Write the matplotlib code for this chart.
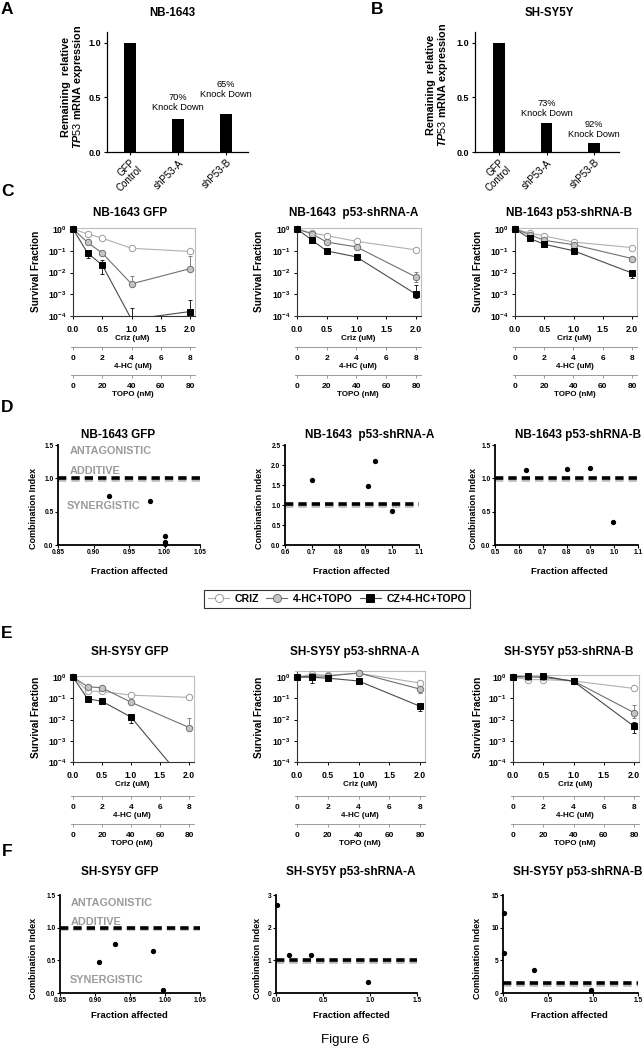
import numpy as np
import matplotlib
matplotlib.use("Agg")
import matplotlib.pyplot as plt
import matplotlib.patheffects as pe
from matplotlib.lines import Line2D
from matplotlib.ticker import LogLocator, NullFormatter

plt.rcParams["font.family"] = ["Liberation Sans", "DejaVu Sans"]
plt.rcParams["mathtext.fontset"] = "custom"
plt.rcParams["mathtext.rm"] = "Liberation Sans"
plt.rcParams["mathtext.bf"] = "Liberation Sans:bold"
plt.rcParams["mathtext.it"] = "Liberation Sans:italic:bold"

W, H = 644, 1050

# A / B: remaining TP53 mRNA after knock down
kd_groups = ["GFP\nControl", "shP53-A", "shP53-B"]
nb1643_tp53 = [1.0, 0.30, 0.35]
shsy5y_tp53 = [1.0, 0.27, 0.085]
nb1643_kd_notes = ["", "70%\nKnock Down", "65%\nKnock Down"]
shsy5y_kd_notes = ["", "73%\nKnock Down", "92%\nKnock Down"]

# C / E: survival fraction vs crizotinib dose (4-HC = 4x, TOPO = 40x)
criz_dose = [0.0, 0.25, 0.5, 1.0, 2.0]
hc_ticks = [0, 2, 4, 6, 8]
topo_ticks = [0, 20, 40, 60, 80]
series_names = ["CRIZ", "4-HC+TOPO", "CZ+4-HC+TOPO"]

nb_gfp_criz = [1.0, 0.59, 0.38, 0.13, 0.093]
nb_gfp_hctopo = [1.0, 0.24, 0.078, 0.003, 0.015]
nb_gfp_combo = [1.0, 0.078, 0.022, 7e-5, 1.6e-4]
nb_gfp_hctopo_err = [(3, 0.003, 0.0068), (4, 0.015, 0.055)]
nb_gfp_combo_err = [(1, 0.048, 0.078), (2, 0.0085, 0.036), (3, 7e-5, 2.4e-4), (4, 1.6e-4, 5.5e-4)]

nb_sha_criz = [1.0, 0.65, 0.50, 0.27, 0.11]
nb_sha_hctopo = [1.0, 0.60, 0.25, 0.15, 0.0062]
nb_sha_combo = [1.0, 0.31, 0.098, 0.052, 0.001]
nb_sha_hctopo_err = [(4, 0.0038, 0.011)]
nb_sha_combo_err = [(4, 0.0007, 0.0027)]

nb_shb_criz = [1.0, 0.65, 0.48, 0.25, 0.14]
nb_shb_hctopo = [1.0, 0.55, 0.30, 0.19, 0.044]
nb_shb_combo = [1.0, 0.37, 0.20, 0.10, 0.0095]
nb_shb_hctopo_err = []
nb_shb_combo_err = [(4, 0.0055, 0.0095)]

sh_gfp_criz = [1.0, 0.22, 0.21, 0.14, 0.11]
sh_gfp_hctopo = [1.0, 0.35, 0.31, 0.065, 0.0042]
sh_gfp_combo = [1.0, 0.095, 0.072, 0.013, 7e-6]
sh_gfp_hctopo_err = [(4, 0.0042, 0.012)]
sh_gfp_combo_err = [(3, 0.007, 0.016)]

sh_sha_criz = [1.0, 1.35, 1.2, 1.5, 0.52]
sh_sha_hctopo = [1.0, 1.1, 1.1, 1.55, 0.27]
sh_sha_combo = [1.0, 0.97, 0.88, 0.65, 0.042]
sh_sha_hctopo_err = [(4, 0.17, 0.27)]
sh_sha_combo_err = [(1, 0.55, 0.97), (2, 0.7, 0.88), (3, 0.5, 0.65), (4, 0.024, 0.042)]

sh_shb_criz = [1.0, 0.75, 0.75, 0.65, 0.29]
sh_shb_hctopo = [1.0, 1.0, 0.95, 0.65, 0.021]
sh_shb_combo = [1.0, 1.15, 1.1, 0.62, 0.0048]
sh_shb_hctopo_err = [(4, 0.012, 0.046)]
sh_shb_combo_err = [(4, 0.0022, 0.0075)]

# D / F: combination index vs fraction affected
nb_gfp_fa = [0.922, 0.979, 1.0, 1.0, 1.0]
nb_gfp_ci = [0.735, 0.665, 0.14, 0.045, 0.02]
nb_sha_fa = [0.70, 0.91, 0.935, 1.0]
nb_sha_ci = [1.62, 1.48, 2.10, 0.84]
nb_shb_fa = [0.63, 0.80, 0.90, 0.995]
nb_shb_ci = [1.13, 1.14, 1.16, 0.34]
sh_gfp_fa = [0.906, 0.928, 0.983, 0.997]
sh_gfp_ci = [0.47, 0.75, 0.645, 0.05]
sh_sha_fa = [0.01, 0.14, 0.37, 0.98]
sh_sha_ci = [2.7, 1.15, 1.17, 0.35]
sh_shb_fa = [0.01, 0.01, 0.34, 0.98]
sh_shb_ci = [12.2, 6.1, 3.5, 0.4]

fig = plt.figure(figsize=(W / 100, H / 100), dpi=100)


def px_axes(left, top, right, bottom):
    return fig.add_axes([left / W, 1 - bottom / H, (right - left) / W, (bottom - top) / H])


def px_text(x, y, s, **kw):
    kw.setdefault("ha", "center")
    kw.setdefault("va", "center")
    fig.text(x / W, 1 - y / H, s, **kw)


def knockdown_panel(left, right, first_bar, step, values, notes, lifts):
    ax = px_axes(left, 32, right, 152)
    pos = np.arange(len(values))
    ax.bar(pos, values, width=0.25, color="black")
    ax.set_xlim((left - first_bar) / step, (right - first_bar) / step)
    ax.set_ylim(0, 1.1)
    ax.set_yticks([0, 0.5, 1.0])
    ax.set_yticklabels(["0.0", "0.5", "1.0"], fontsize=6.5, fontweight="bold")
    ax.set_xticks(pos)
    ax.set_xticklabels(kd_groups, rotation=45, ha="right", rotation_mode="anchor",
                       fontsize=7, linespacing=1.0)
    for p, v, note, lift in zip(pos, values, notes, lifts):
        if note:
            ax.text(p, v + lift, note, ha="center", va="bottom", fontsize=6.7, linespacing=1.1)
    for side in ("top", "right"):
        ax.spines[side].set_visible(False)
    for side in ("left", "bottom"):
        ax.spines[side].set_linewidth(0.9)
    ax.tick_params(length=2.5, width=0.8, pad=1.5)
    return ax


series_styles = [
    dict(marker="o", mfc="white", mec="#9a9a9a", line="#b0b0b0", ms=4.6),
    dict(marker="o", mfc="#c4c4c4", mec="#707070", line="#707070", ms=4.6),
    dict(marker="s", mfc="black", mec="black", line="#4a4a4a", ms=4.0),
]


def survival_panel(x0, x2, y_one, y_min, top, hc_line, topo_line, curves, errs):
    decade = (y_min - y_one) / 4
    y_top = y_one - np.log10(top) * decade
    unit = (x2 - x0) / 2
    ax = px_axes(x0 - 0.04 * unit, y_top, x0 + 2.08 * unit, y_min)
    ax.set_yscale("log")
    ax.set_ylim(1e-4, top)
    ax.set_xlim(-0.04, 2.08)
    x = np.array(criz_dose)
    for y, err, st in zip(curves, errs, series_styles):
        y = np.array(y)
        ax.plot(x, y, color=st["line"], lw=0.8, zorder=2)
        for i, lo, hi in err:
            ax.errorbar([x[i]], [y[i]], yerr=[[y[i] - lo], [hi - y[i]]], fmt="none",
                        ecolor=st["mec"], elinewidth=0.6, capsize=1.5, capthick=0.6, zorder=2)
        keep = y >= 1e-4
        ax.plot(x[keep], y[keep], ls="none", marker=st["marker"], ms=st["ms"],
                mfc=st["mfc"], mec=st["mec"], mew=0.7, clip_on=False, zorder=3)

    ax.spines["left"].set_position(("data", 0))
    for side in ("left", "bottom"):
        ax.spines[side].set_color("#333333")
    for side in ("top", "right"):
        ax.spines[side].set_color("#bdbdbd")
    for s in ax.spines.values():
        s.set_linewidth(0.8)
    ax.set_yticks([1e-4, 1e-3, 1e-2, 1e-1, 1e0])
    ax.set_yticklabels([r"$\mathbf{10^{%d}}$" % e for e in range(-4, 1)], fontsize=6.2)
    ax.yaxis.set_minor_locator(LogLocator(base=10, subs=np.arange(2, 10)))
    ax.yaxis.set_minor_formatter(NullFormatter())
    ax.set_xticks([0, 0.5, 1, 1.5, 2])
    ax.set_xticklabels(["0.0", "0.5", "1.0", "1.5", "2.0"], fontsize=6.2, fontweight="bold")
    ax.tick_params(axis="both", which="major", length=2.5, width=0.7, pad=2)
    ax.tick_params(axis="x", pad=4)
    ax.tick_params(axis="y", which="minor", length=1.3, width=0.4, color="#666666")
    ax.set_xlabel("Criz (uM)", fontsize=5.8, fontweight="bold", labelpad=0.5)

    height = y_min - y_top
    for line_px, scale, ticks, label in ((hc_line, 4, hc_ticks, "4-HC (uM)"),
                                         (topo_line, 40, topo_ticks, "TOPO (nM)")):
        sec = ax.secondary_xaxis(-(line_px - y_min) / height,
                                 functions=(lambda v, s=scale: v * s, lambda v, s=scale: v / s))
        sec.set_xticks(ticks)
        sec.set_xticklabels([str(t) for t in ticks], fontsize=6, fontweight="bold")
        sec.spines["bottom"].set_color("#8a8a8a")
        sec.spines["bottom"].set_linewidth(0.6)
        sec.tick_params(length=2, width=0.6, color="#8a8a8a", pad=4)
        sec.set_xlabel(label, fontsize=5.8, fontweight="bold", labelpad=0.5)
    return ax


def ci_panel(left, right, top, bottom, xlim, xticks, xfmt, ylim, yticks, yfmt,
             fa, ci, ref_y, zones=()):
    ax = px_axes(left, top, right, bottom)
    ax.set_xlim(*xlim)
    ax.set_ylim(*ylim)
    ax.plot(xlim, [ref_y, ref_y], color="black", lw=2.6, ls=(0, (2.3, 1.4)),
            dash_capstyle="butt", zorder=2,
            path_effects=[pe.SimpleLineShadow(offset=(0, -1.3), shadow_color="#8c8c8c", alpha=0.6),
                          pe.Normal()])
    ax.plot(fa, ci, ls="none", marker="o", ms=2.8, color="black", clip_on=False, zorder=3)
    for zx, zy, txt in zones:
        ax.text(zx, zy, txt, ha="left", va="center", fontsize=7.8, fontweight="bold",
                color="#9b9b9b")
    ax.set_xticks(xticks)
    ax.set_xticklabels([xfmt % t for t in xticks], fontsize=4.8, fontweight="bold")
    ax.set_yticks(yticks)
    ax.set_yticklabels([yfmt % t for t in yticks], fontsize=4.8, fontweight="bold")
    for side in ("top", "right"):
        ax.spines[side].set_visible(False)
    for side in ("left", "bottom"):
        ax.spines[side].set_linewidth(1.3)
    ax.tick_params(length=2, width=0.8, pad=1.2)
    return ax


# ---- A / B
knockdown_panel(107, 248, 130, 48, nb1643_tp53, nb1643_kd_notes, [0, 0.065, 0.135])
knockdown_panel(475, 619, 499, 47.5, shsy5y_tp53, shsy5y_kd_notes, [0, 0.04, 0.035])
bar_ylabel = "Remaining  relative\n$\\mathit{TP53}$ mRNA expression"
px_text(73, 87, bar_ylabel, rotation=90, fontsize=7.8, fontweight="bold", linespacing=1.0)
px_text(438, 85, bar_ylabel, rotation=90, fontsize=7.8, fontweight="bold", linespacing=1.0)
px_text(172, 13, "NB-1643", fontsize=8.3, fontweight="bold")
px_text(549, 13, "SH-SY5Y", fontsize=8.3, fontweight="bold")

# ---- C
c_curves = [
    ([nb_gfp_criz, nb_gfp_hctopo, nb_gfp_combo], [[], nb_gfp_hctopo_err, nb_gfp_combo_err]),
    ([nb_sha_criz, nb_sha_hctopo, nb_sha_combo], [[], nb_sha_hctopo_err, nb_sha_combo_err]),
    ([nb_shb_criz, nb_shb_hctopo, nb_shb_combo], [[], nb_shb_hctopo_err, nb_shb_combo_err]),
]
c_geom = [(73, 190), (297, 416), (515, 632)]
c_titles = ["NB-1643 GFP", "NB-1643  p53-shRNA-A", "NB-1643 p53-shRNA-B"]
for (x0, x2), (curves, errs), title, tx, lx in zip(c_geom, c_curves, c_titles,
                                                   [130, 354, 569], [36, 259, 478]):
    survival_panel(x0, x2, 229, 316, 1.15, 347, 375, curves, errs)
    px_text(tx, 213, title, fontsize=8.5, fontweight="bold")
    px_text(lx, 271, "Survival Fraction", rotation=90, fontsize=7.2, fontweight="bold")

# ---- E
e_curves = [
    ([sh_gfp_criz, sh_gfp_hctopo, sh_gfp_combo], [[], sh_gfp_hctopo_err, sh_gfp_combo_err]),
    ([sh_sha_criz, sh_sha_hctopo, sh_sha_combo], [[], sh_sha_hctopo_err, sh_sha_combo_err]),
    ([sh_shb_criz, sh_shb_hctopo, sh_shb_combo], [[], sh_shb_hctopo_err, sh_shb_combo_err]),
]
e_geom = [(73, 189, 1.15), (297, 420, 2.0), (513, 634, 1.3)]
e_titles = ["SH-SY5Y GFP", "SH-SY5Y p53-shRNA-A", "SH-SY5Y p53-shRNA-B"]
for (x0, x2, top), (curves, errs), title, tx, lx in zip(e_geom, e_curves, e_titles,
                                                        [130, 355, 569], [36, 259, 478]):
    survival_panel(x0, x2, 677, 762, top, 796, 824, curves, errs)
    px_text(tx, 652, title, fontsize=8.5, fontweight="bold")
    px_text(lx, 717, "Survival Fraction", rotation=90, fontsize=7.2, fontweight="bold")

# ---- D
gfp_zones_d = [(0.866, 1.415, "ANTAGONISTIC"), (0.866, 1.115, "ADDITIVE"),
               (0.862, 0.585, "SYNERGISTIC")]
ci_panel(58, 200, 445, 545, (0.85, 1.05), [0.85, 0.90, 0.95, 1.00, 1.05], "%.2f",
         (0, 1.5), [0, 0.5, 1.0, 1.5], "%.1f", nb_gfp_fa, nb_gfp_ci, 1.0, gfp_zones_d)
ci_panel(285, 419, 445, 545, (0.6, 1.1), [0.6, 0.7, 0.8, 0.9, 1.0, 1.1], "%.1f",
         (0, 2.5), [0, 0.5, 1.0, 1.5, 2.0, 2.5], "%.1f", nb_sha_fa, nb_sha_ci, 1.02)
ci_panel(495, 638, 445, 545, (0.5, 1.1), [0.5, 0.6, 0.7, 0.8, 0.9, 1.0, 1.1], "%.1f",
         (0, 1.5), [0, 0.5, 1.0, 1.5], "%.1f", nb_shb_fa, nb_shb_ci, 1.0)
for tx, title in zip([118, 370, 578], ["NB-1643 GFP", "NB-1643  p53-shRNA-A", "NB-1643 p53-shRNA-B"]):
    px_text(tx, 435, title, fontsize=8.5, fontweight="bold")
for lx in [34, 259, 474]:
    px_text(lx, 508, "Combination Index", rotation=90, fontsize=6.5, fontweight="bold")
for fx in [129, 351, 569]:
    px_text(fx, 572, "Fraction affected", fontsize=6.8, fontweight="bold")

# ---- legend
handles = [Line2D([], [], color=st["line"], lw=0.8, marker=st["marker"], ms=st["ms"] + 1.2,
                  mfc=st["mfc"], mec=st["mec"], mew=0.7) for st in series_styles]
leg = fig.legend(handles, series_names, loc="center", bbox_to_anchor=(337 / W, 1 - 599 / H),
                 ncol=3, frameon=True, fancybox=False, edgecolor="black",
                 prop={"weight": "bold", "size": 7.6}, handlelength=2.0, handletextpad=0.5,
                 columnspacing=0.7, borderpad=0.35)
leg.get_frame().set_linewidth(0.8)

# ---- F
gfp_zones_f = [(0.866, 1.38, "ANTAGONISTIC"), (0.866, 1.09, "ADDITIVE"),
               (0.8635, 0.20, "SYNERGISTIC")]
ci_panel(60, 200, 895, 993, (0.85, 1.05), [0.85, 0.90, 0.95, 1.00, 1.05], "%.2f",
         (0, 1.5), [0, 0.5, 1.0, 1.5], "%.1f", sh_gfp_fa, sh_gfp_ci, 1.0, gfp_zones_f)
ci_panel(276, 417, 895, 993, (0, 1.5), [0, 0.5, 1.0, 1.5], "%.1f",
         (0, 3), [0, 1, 2, 3], "%d", sh_sha_fa, sh_sha_ci, 1.0)
ci_panel(503, 638, 895, 993, (0, 1.5), [0, 0.5, 1.0, 1.5], "%.1f",
         (0, 15), [0, 5, 10, 15], "%d", sh_shb_fa, sh_shb_ci, 1.5)
for tx, title in zip([120, 351, 578], ["SH-SY5Y GFP", "SH-SY5Y p53-shRNA-A", "SH-SY5Y p53-shRNA-B"]):
    px_text(tx, 872, title, fontsize=8.5, fontweight="bold")
for lx in [34, 258, 478]:
    px_text(lx, 958, "Combination Index", rotation=90, fontsize=6.5, fontweight="bold")
for fx in [129, 351, 569]:
    px_text(fx, 1016, "Fraction affected", fontsize=6.8, fontweight="bold")

# ---- panel letters and caption
for letter, (lx, ly) in zip("ABCDEF", [(7, 9), (377, 9), (7, 192), (7, 407), (7, 633), (7, 852)]):
    px_text(lx, ly, letter, fontsize=12.5, fontweight="bold")
px_text(345, 1040, "Figure 6", fontsize=9.5)

fig.savefig("out.png", dpi=100)
